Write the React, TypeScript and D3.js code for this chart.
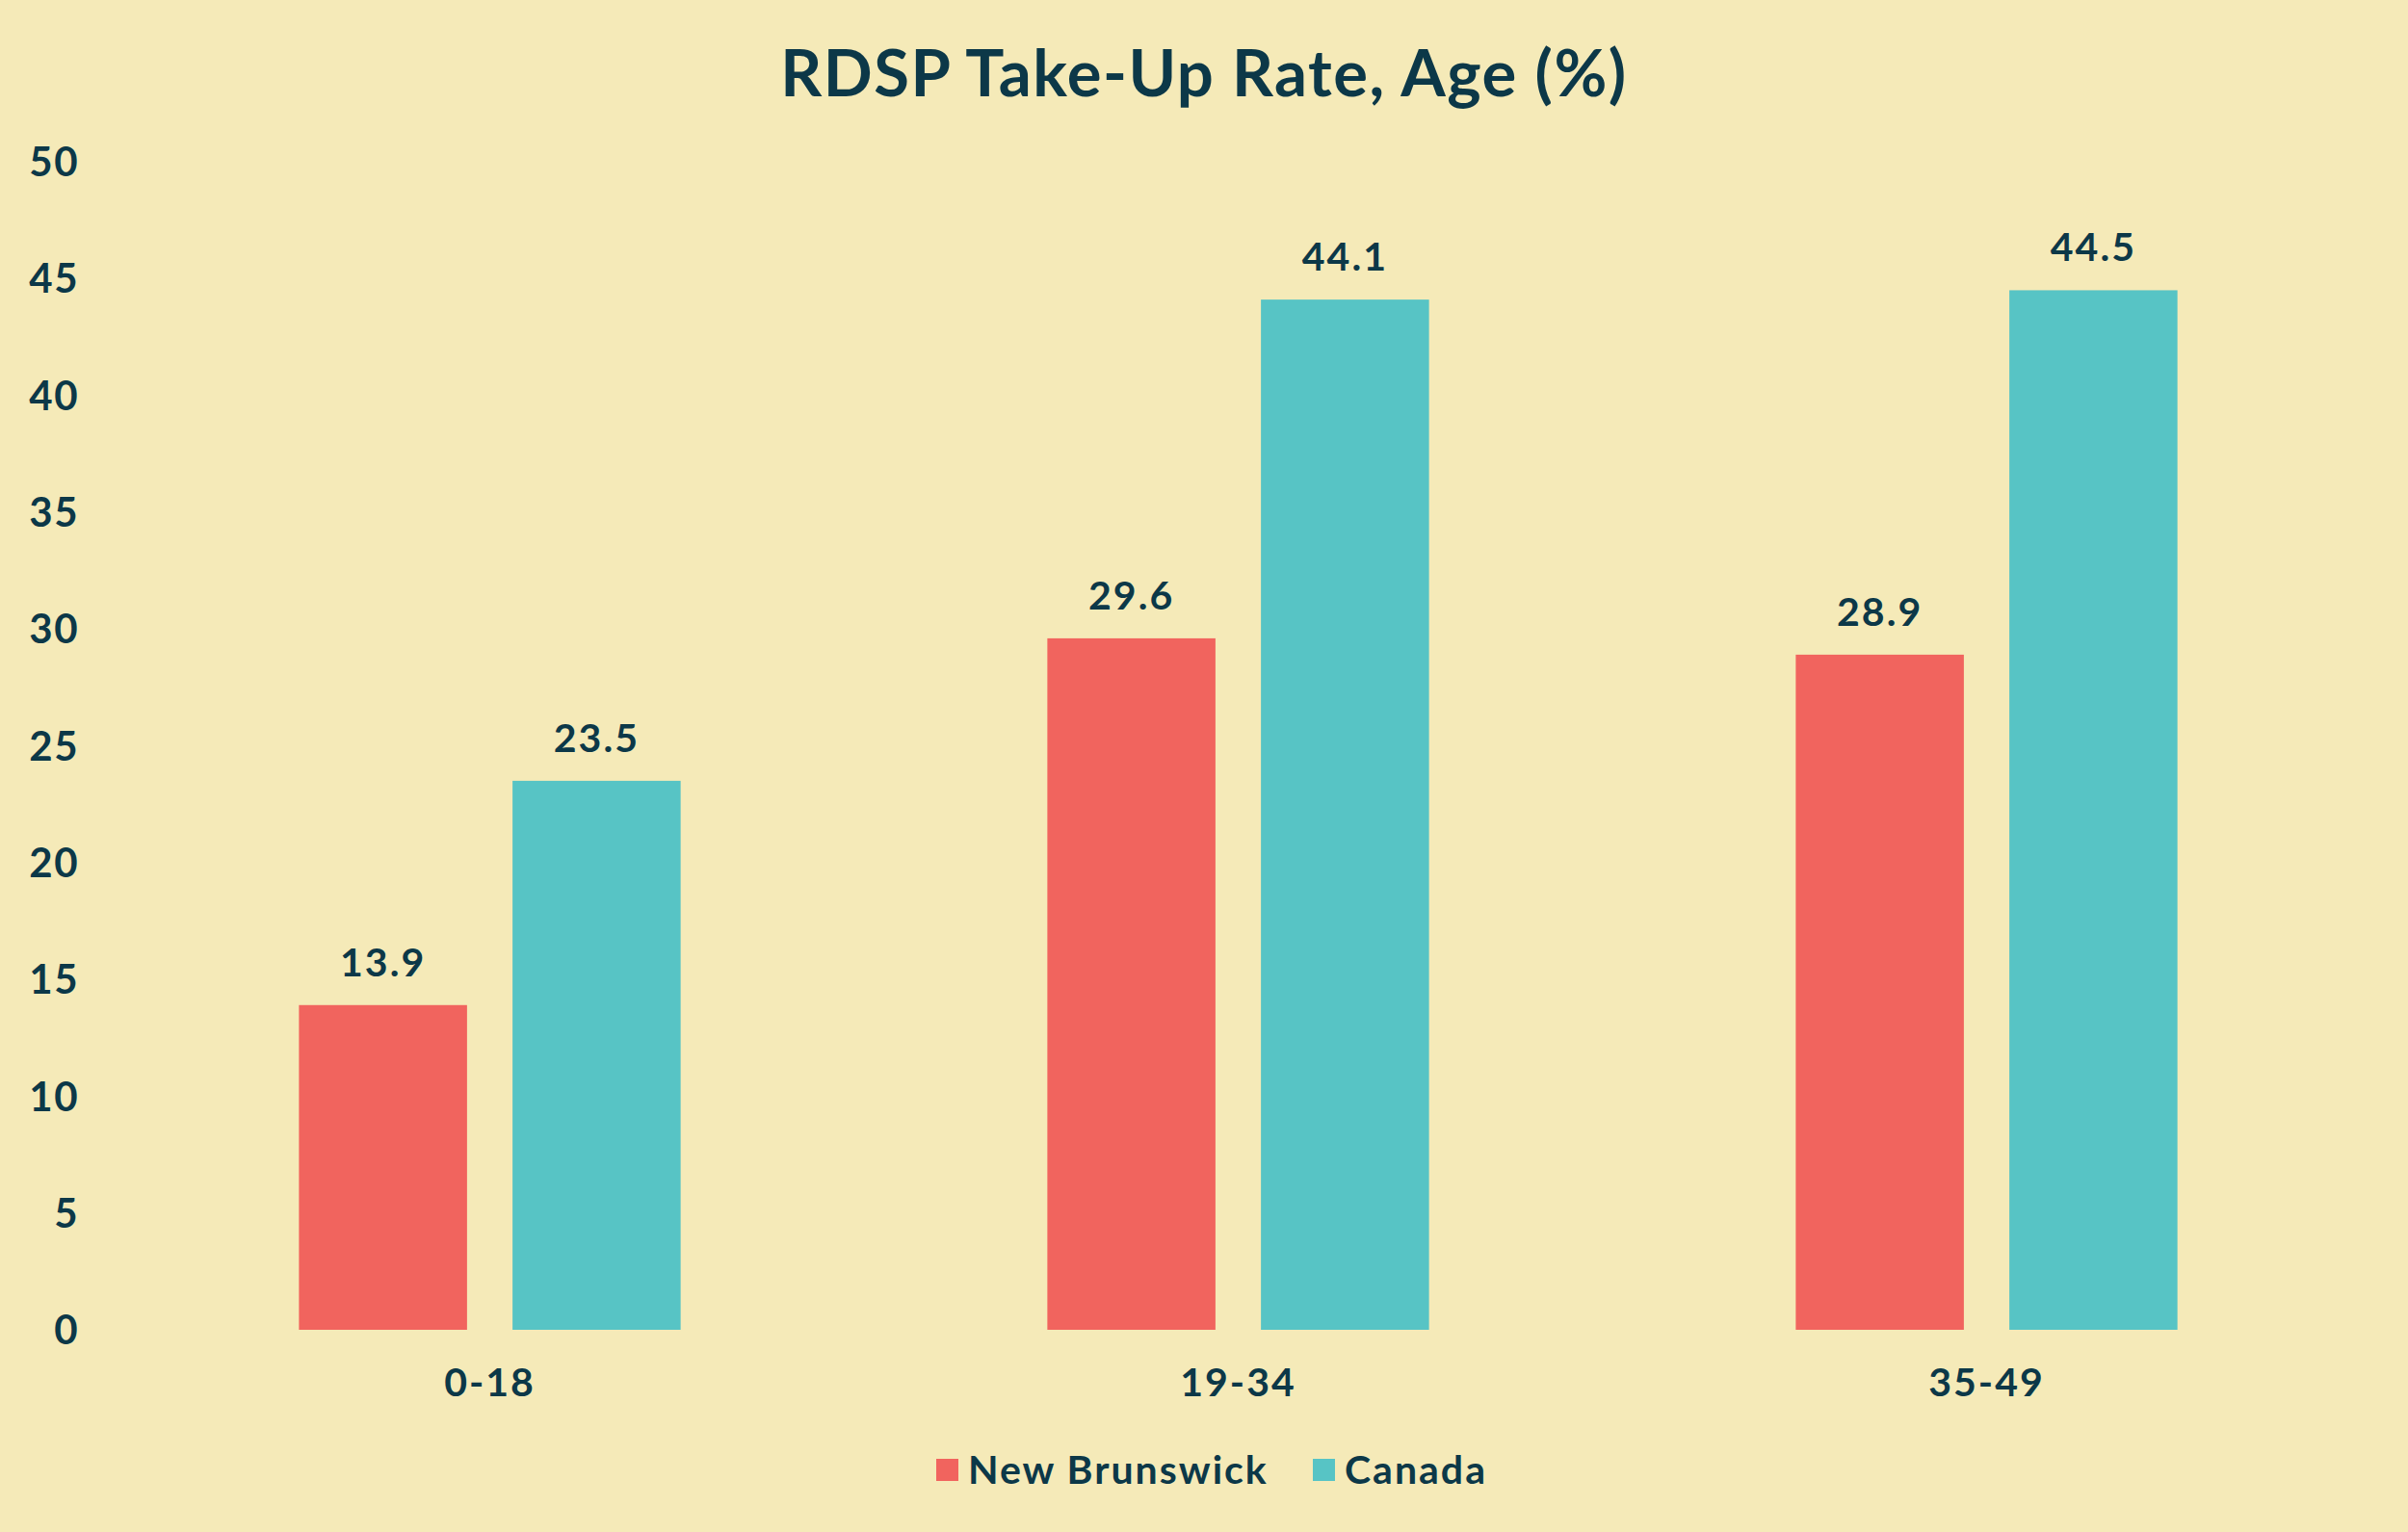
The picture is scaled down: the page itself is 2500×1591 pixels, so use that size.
// App
import { useEffect, useRef } from 'react';
import * as d3 from 'd3';

// chart data
const ageGroups: string[] = ['0-18', '19-34', '35-49'];
const seriesNames: string[] = ['New Brunswick', 'Canada'];
const newBrunswick: number[] = [13.9, 29.6, 28.9];
const canada: number[] = [23.5, 44.1, 44.5];
const yTicks: number[] = [0, 5, 10, 15, 20, 25, 30, 35, 40, 45, 50];

const WIDTH = 2500;
const HEIGHT = 1591;
const BG = '#f5eab8';
const INK = '#0c3848';
const COLORS = ['#f1645e', '#57c4c5'];
const FONT = 'Lato, "Open Sans", sans-serif';

function App() {
	const ref = useRef<SVGSVGElement>(null);

	useEffect(() => {
		const svg = d3.select(ref.current);
		svg.selectAll('*').remove();

		svg.append('rect').attr('width', WIDTH).attr('height', HEIGHT).attr('fill', BG);

		const x = d3.scaleBand<string>().domain(ageGroups).range([120, 2451]).paddingInner(0.49).paddingOuter(0.245);
		const xSub = d3.scaleBand<string>().domain(seriesNames).range([0, x.bandwidth()]).paddingInner(0.213);
		const y = d3.scaleLinear().domain([0, 50]).range([1381, 168]);

		const label = (sel: d3.Selection<SVGTextElement, any, any, any>, size: number, spacing: number) =>
			sel
				.style('font-family', FONT)
				.style('font-weight', 700)
				.style('font-size', `${size}px`)
				.style('letter-spacing', `${spacing}px`)
				.style('fill', INK);

		// title
		svg.append('text')
			.attr('x', WIDTH / 2)
			.attr('y', 100)
			.attr('text-anchor', 'middle')
			.call(label, 67, 1.5)
			.text('RDSP Take-Up Rate, Age (%)');

		// y tick labels
		svg.append('g')
			.selectAll('text')
			.data(yTicks)
			.enter()
			.append('text')
			.attr('x', 82)
			.attr('y', (d) => y(d))
			.attr('dy', '0.36em')
			.attr('text-anchor', 'end')
			.call(label, 42, 1.5)
			.text((d) => d);

		// x labels
		svg.append('g')
			.selectAll('text')
			.data(ageGroups)
			.enter()
			.append('text')
			.attr('x', (d) => (x(d) as number) + x.bandwidth() / 2)
			.attr('y', 1435)
			.attr('dy', '0.36em')
			.attr('text-anchor', 'middle')
			.call(label, 41, 2)
			.text((d) => d);

		const series = [newBrunswick, canada];
		seriesNames.forEach((name, si) => {
			const g = svg.append('g');
			const rows = ageGroups.map((grp, i) => ({ grp, value: series[si][i] }));
			g.selectAll('rect')
				.data(rows)
				.enter()
				.append('rect')
				.attr('x', (d) => (x(d.grp) as number) + (xSub(name) as number))
				.attr('y', (d) => y(d.value))
				.attr('width', xSub.bandwidth())
				.attr('height', (d) => y(0) - y(d.value))
				.style('fill', COLORS[si]);
			g.selectAll('text')
				.data(rows)
				.enter()
				.append('text')
				.attr('x', (d) => (x(d.grp) as number) + (xSub(name) as number) + xSub.bandwidth() / 2)
				.attr('y', (d) => y(d.value) - 30)
				.attr('text-anchor', 'middle')
				.call(label, 41, 2)
				.text((d) => d.value.toFixed(1));
		});

		// legend
		const legendX = [972, 1363];
		const legend = svg.append('g');
		seriesNames.forEach((name, i) => {
			legend.append('rect')
				.attr('x', legendX[i])
				.attr('y', 1515)
				.attr('width', 23)
				.attr('height', 23)
				.style('fill', COLORS[i]);
			legend.append('text')
				.attr('x', legendX[i] + 33)
				.attr('y', 1526)
				.attr('dy', '0.36em')
				.call(label, 41, 2)
				.text(name);
		});
	}, []);

	return (
		<div style={{ position: 'absolute', left: 0, top: 0 }}>
			<svg ref={ref} width={WIDTH} height={HEIGHT} style={{ display: 'block' }} />
		</div>
	);
}

export default App;
